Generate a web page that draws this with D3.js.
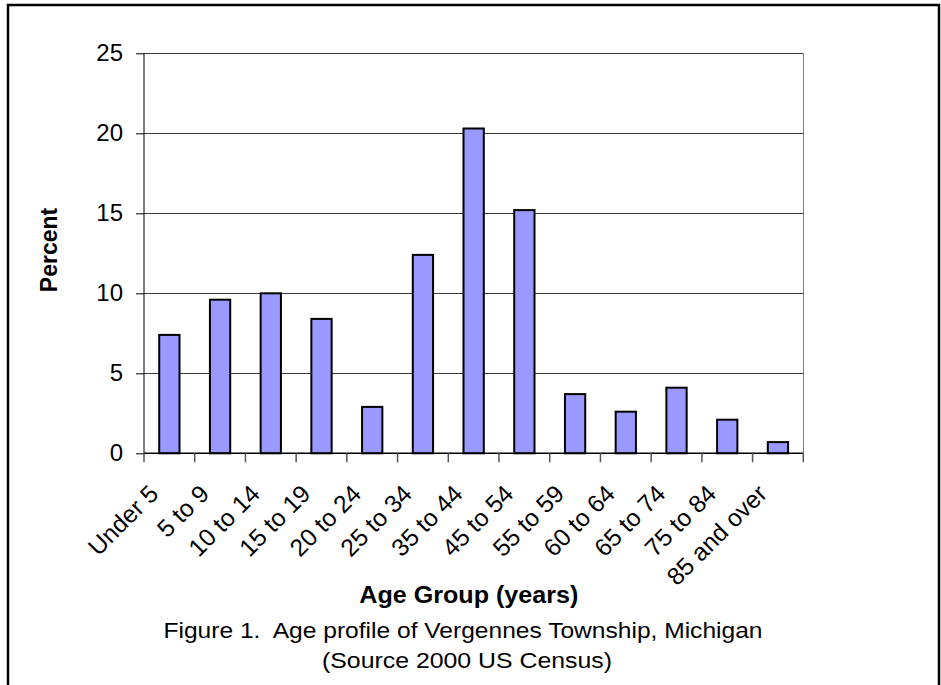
<!DOCTYPE html>
<html>
<head>
<meta charset="utf-8">
<script src="https://cdn.jsdelivr.net/npm/d3@7/dist/d3.min.js"></script>
<style>
  html, body { margin: 0; padding: 0; background: #fff; }
  svg { display: block; font-family: "Liberation Sans", Arial, sans-serif; }
</style>
</head>
<body>
<svg id="chart" width="941" height="685"></svg>
<script>
const categories = ["Under 5", "5 to 9", "10 to 14", "15 to 19", "20 to 24", "25 to 34",
  "35 to 44", "45 to 54", "55 to 59", "60 to 64", "65 to 74", "75 to 84", "85 and over"];
const percentValues = [7.4, 9.6, 10.0, 8.4, 2.9, 12.4, 20.3, 15.2, 3.7, 2.6, 4.1, 2.1, 0.7];
const yTicks = [0, 5, 10, 15, 20, 25];
const yLabel = "Percent";
const xLabel = "Age Group (years)";
const captionLines = ["Figure 1.  Age profile of Vergennes Township, Michigan", "(Source 2000 US Census)"];

const svg = d3.select("#chart");
const plot = { left: 144, right: 803.3, top: 53.3, bottom: 453.3 };

// outer frame
svg.append("rect").attr("x", 8).attr("y", 5).attr("width", 931).attr("height", 700)
  .attr("fill", "none").attr("stroke", "#000").attr("stroke-width", 2.5);

const x = d3.scaleBand().domain(categories).range([plot.left, plot.right]).paddingInner(0.6).paddingOuter(0.3);
const xb = d3.scaleBand().domain(categories).range([plot.left, plot.right]);
const y = d3.scaleLinear().domain([0, 25]).range([plot.bottom, plot.top]);

// gridlines
svg.append("g").selectAll("line").data(yTicks.filter(d => d > 0)).join("line")
  .attr("x1", plot.left).attr("x2", plot.right)
  .attr("y1", d => y(d)).attr("y2", d => y(d))
  .attr("stroke", "#3a3a3a").attr("stroke-width", 1).attr("shape-rendering", "crispEdges");

// right border of plot
svg.append("line").attr("x1", plot.right).attr("x2", plot.right)
  .attr("y1", plot.top).attr("y2", plot.bottom)
  .attr("stroke", "#808080").attr("stroke-width", 1).attr("shape-rendering", "crispEdges");

// bars
svg.append("g").selectAll("rect").data(categories).join("rect")
  .attr("x", d => x(d))
  .attr("y", (d, i) => y(percentValues[i]))
  .attr("width", x.bandwidth())
  .attr("height", (d, i) => y(0) - y(percentValues[i]))
  .attr("fill", "#9999FF").attr("stroke", "#000").attr("stroke-width", 2);

// y axis
const yAxis = d3.axisLeft(y).tickValues(yTicks).tickSize(8).tickPadding(13).tickFormat(d3.format("d"));
const gy = svg.append("g").attr("transform", `translate(${plot.left},0)`).call(yAxis);
gy.select(".domain").attr("stroke", "#000").attr("d", `M0,${plot.top}V${plot.bottom}`);
gy.selectAll(".tick line").attr("stroke", "#000");
gy.selectAll(".tick text").attr("font-size", 24).attr("fill", "#000")
  .attr("font-family", "Liberation Sans, Arial, sans-serif");

// x axis: ticks at category boundaries
const boundaries = categories.map(c => xb(c)).concat([plot.right]);
svg.append("line").attr("x1", plot.left).attr("x2", plot.right)
  .attr("y1", plot.bottom).attr("y2", plot.bottom)
  .attr("stroke", "#000").attr("stroke-width", 1.5);
svg.append("g").selectAll("line").data(boundaries).join("line")
  .attr("x1", d => d).attr("x2", d => d)
  .attr("y1", plot.bottom).attr("y2", plot.bottom + 9)
  .attr("stroke", "#555").attr("stroke-width", 1.5);

// x tick labels rotated
svg.append("g").selectAll("text").data(categories).join("text")
  .attr("transform", d => `translate(${xb(d) + xb.bandwidth() / 2 - 9.5},${plot.bottom + 42}) rotate(-45)`)
  .attr("text-anchor", "end")
  .attr("font-size", 24.5).attr("fill", "#000")
  .text(d => d);

// y label
svg.append("text")
  .attr("transform", "translate(57,250) rotate(-90)")
  .attr("text-anchor", "middle")
  .attr("font-size", 23).attr("font-weight", "bold")
  .text(yLabel);

// x label
svg.append("text")
  .attr("x", 468.8).attr("y", 602.7)
  .attr("text-anchor", "middle")
  .attr("font-size", 23).attr("font-weight", "bold")
  .attr("textLength", 219).attr("lengthAdjust", "spacingAndGlyphs")
  .text(xLabel);

// caption
svg.append("text")
  .attr("x", 463).attr("y", 638)
  .attr("text-anchor", "middle")
  .attr("font-size", 22.5)
  .attr("textLength", 599).attr("lengthAdjust", "spacingAndGlyphs")
  .style("white-space", "pre")
  .text(captionLines[0]);
svg.append("text")
  .attr("x", 467).attr("y", 668)
  .attr("text-anchor", "middle")
  .attr("font-size", 22.5)
  .attr("textLength", 290).attr("lengthAdjust", "spacingAndGlyphs")
  .text(captionLines[1]);
</script>
</body>
</html>
